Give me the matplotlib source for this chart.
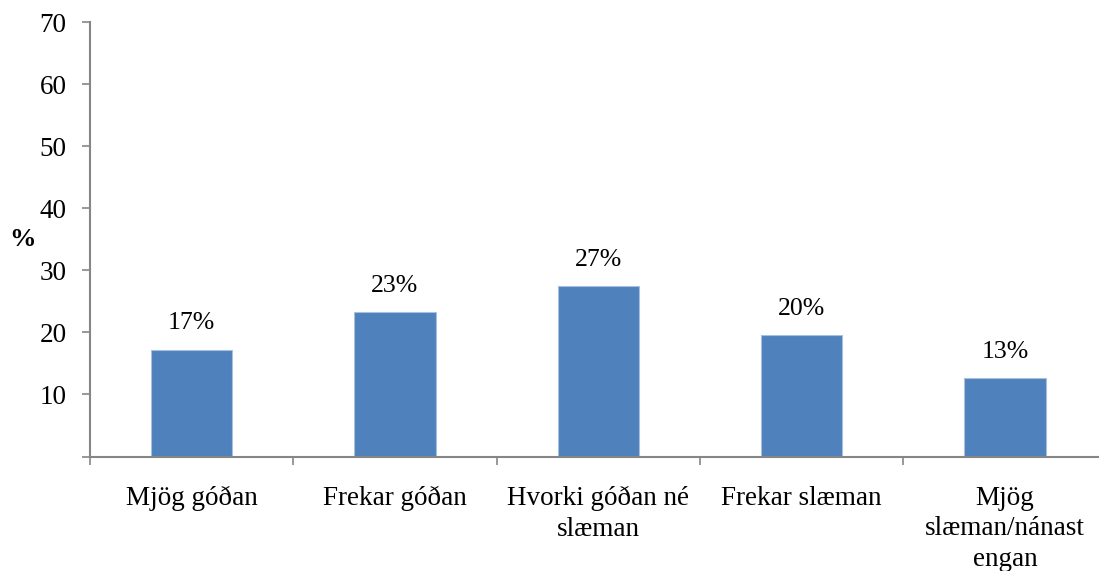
import matplotlib.pyplot as plt
import numpy as np

plt.rcParams['font.family'] = ['Liberation Serif', 'DejaVu Serif']

categories = ['Mjög góðan', 'Frekar góðan', 'Hvorki góðan né\nslæman',
              'Frekar slæman', 'Mjög\nslæman/nánast\nengan']
values = [17.2, 23.2, 27.4, 19.6, 12.6]
bar_labels = ['17%', '23%', '27%', '20%', '13%']
y_ticks = [0, 10, 20, 30, 40, 50, 60, 70]
y_tick_labels = ['', '10', '20', '30', '40', '50', '60', '70']

grey = '#868686'

fig = plt.figure(figsize=(10.99, 5.71), dpi=100)
ax = fig.add_axes([90 / 1099, 1 - 456.5 / 571, 1016.5 / 1099, 434.5 / 571])

x = np.arange(len(categories))
ax.bar(x, values, width=0.4, color='#4F81BD', edgecolor='#A7C0DE', linewidth=0.8)

for xi, v, lab in zip(x, values, bar_labels):
    ax.annotate(lab, (xi, v), xytext=(0, 11), textcoords='offset points',
                ha='center', va='bottom', fontsize=18.5)

ax.set_xlim(-0.5, len(categories) - 0.5)
ax.set_ylim(0, 70)
ax.set_yticks(y_ticks)
ax.set_yticklabels(y_tick_labels, fontsize=19.5)

# category ticks sit between the bars, labels under each bar
ax.set_xticks(np.arange(len(categories) + 1) - 0.5)
ax.set_xticklabels([])
ax.set_xticks(x, minor=True)
ax.set_xticklabels(categories, minor=True, fontsize=19.5, linespacing=1.3)
ax.tick_params(axis='x', which='minor', length=0, pad=21)
ax.tick_params(axis='x', which='major', length=6, color=grey, width=1.2)
ax.tick_params(axis='y', length=6, color=grey, width=1.2, pad=11)

for s in ['top', 'right']:
    ax.spines[s].set_visible(False)
for s in ['left', 'bottom']:
    ax.spines[s].set_color(grey)
    ax.spines[s].set_linewidth(1.5)

fig.text(23 / 1099, 1 - 240 / 571, '%', fontsize=19, fontweight='bold',
         ha='center', va='center')

fig.savefig('out.png', dpi=100)
